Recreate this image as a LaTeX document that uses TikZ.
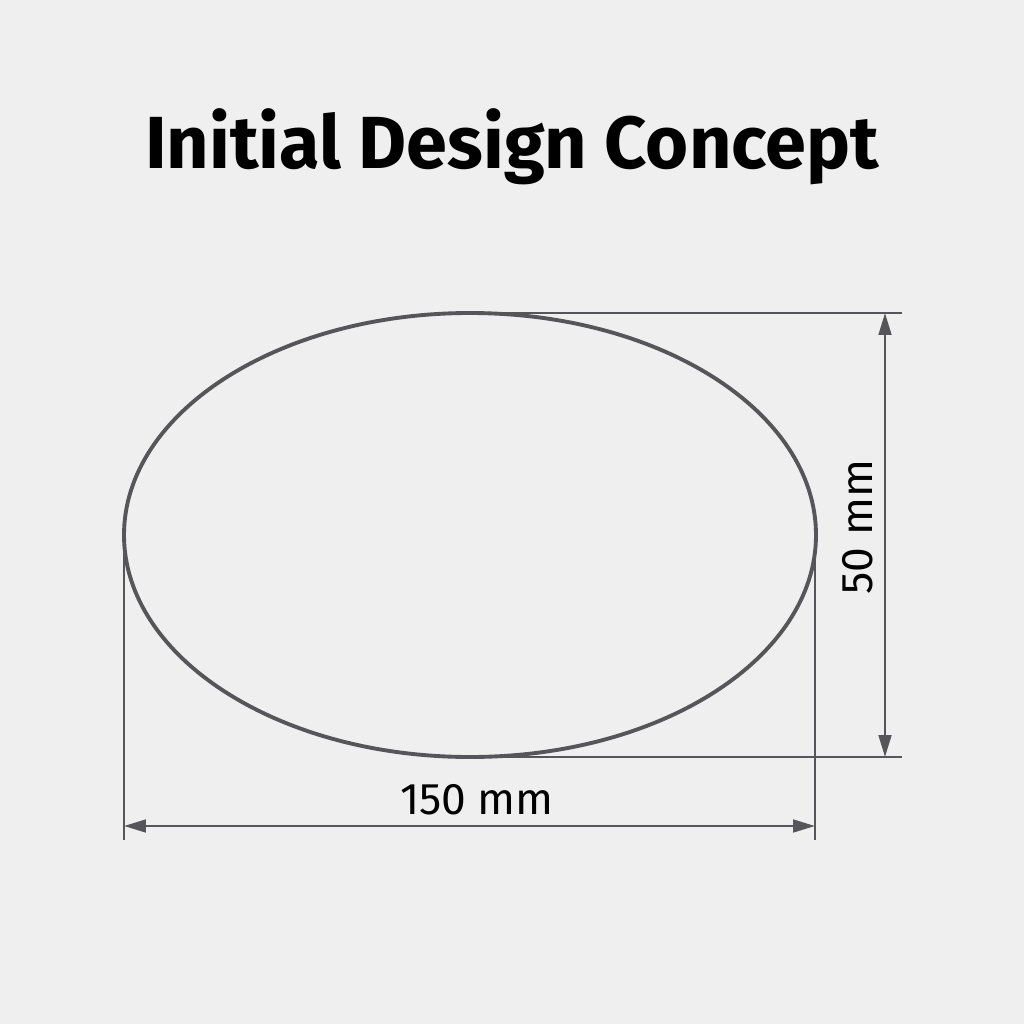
\documentclass[tikz,border=0pt]{standalone}
\usepackage{fontspec}
\setmainfont{Fira Sans}
\usepackage{tikz}
\usetikzlibrary{arrows.meta,positioning,calc}
\definecolor{paper}{RGB}{239,239,239}
\definecolor{outline}{RGB}{85,85,90}
\tikzstyle{every dimension} = []
\tikzstyle{shape line} = [draw=outline, line width=1.1pt]
\tikzstyle{extension} = [draw=outline, line width=0.7pt]
\tikzstyle{dimension} = [draw=outline, line width=0.7pt,
	{Triangle[length=6.2pt,width=3.6pt]}-{Triangle[length=6.2pt,width=3.6pt]},
	every dimension]
\tikzstyle{measure} = [font=\fontsize{12.6}{14}\selectfont, text=black, inner sep=0pt]
\tikzstyle{title} = [font=\fontsize{21}{25}\selectfont\bfseries, text=black, inner sep=0pt]

\begin{document}
\begin{tikzpicture}[x=0.01cm, y=-0.01cm]
	\fill[paper] (0,0) rectangle (1024,1024);
	\useasboundingbox (0,0) rectangle (1024,1024);
	\node[title] (heading) at (512, 147) {Initial Design Concept};
	% the part outline
	\draw[shape line] (470, 535) ellipse [x radius=346, y radius=222];
	\coordinate (left) at (124, 535);
	\coordinate (right) at (815, 535);
	\coordinate (top) at (470, 313);
	\coordinate (bottom) at (470, 757);
	% extension lines
	\coordinate (left foot) at (124, 840);
	\coordinate (right foot) at (815, 840);
	\coordinate (top end) at (902, 313);
	\coordinate (bottom end) at (902, 757);
	\draw[extension] (left) -- (left foot);
	\draw[extension] (right) -- (right foot);
	\draw[extension] (top) -- (top end);
	\draw[extension] (bottom) -- (bottom end);
	% dimensions
	\coordinate (width a) at (124, 826);
	\coordinate (width b) at (815, 826);
	\coordinate (height a) at (885, 313);
	\coordinate (height b) at (885, 757);
	\draw[dimension] (width a) -- (width b);
	\draw[dimension] (height a) -- (height b);
	\node[measure] (width) at (477, 800) {150 mm};
	\node[measure, rotate=90] (height) at (858, 527) {50 mm};
\end{tikzpicture}
\end{document}
